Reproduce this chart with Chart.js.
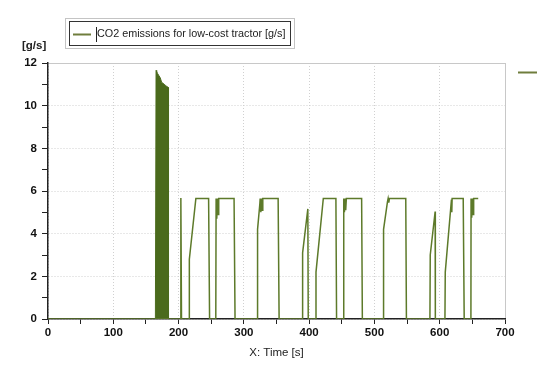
<!DOCTYPE html>
<html>
<head>
<meta charset="utf-8">
<script src="https://cdn.jsdelivr.net/npm/chart.js@4"></script>
<style>
  html, body { margin: 0; padding: 0; background: #fff; }
  #wrap { width: 550px; height: 377px; position: relative; }
</style>
</head>
<body>
<div id="wrap"><canvas id="chart"></canvas></div>
<script>
// time [s] and CO2 [g/s]
const time = [0, 164, 185, 203, 203.5, 204.5, 216, 216.5, 226.5, 246, 247.5,
  257, 257.5, 258.5, 259.5, 260.5, 261.5, 262.5, 285, 286.5,
  320.5, 321, 324.5, 325, 326, 327, 328, 329, 352.5, 354,
  389.5, 390, 398, 398.6,
  410, 410.5, 421.7, 441, 442,
  452.5, 453, 454, 455, 456, 457, 480.4, 481.5,
  513.5, 514, 520, 521, 522, 523, 548, 549,
  585, 585.5, 593, 593.3,
  608, 608.5, 618, 618.5, 619, 636, 637.5,
  647.8, 648, 649, 650, 651, 652, 659];
const co2 = [0, 0, 0, 0, 5.67, 0, 0, 2.8, 5.65, 5.65, 0,
  0, 5.65, 4.7, 5.65, 4.9, 5.65, 5.65, 5.65, 0,
  0, 4.2, 5.4, 5.65, 5.0, 5.65, 5.1, 5.65, 5.65, 0,
  0, 3.1, 5.16, 0,
  0, 2.2, 5.65, 5.65, 0,
  0, 5.65, 5.0, 5.65, 5.1, 5.65, 5.65, 0,
  0, 4.2, 5.5, 5.65, 5.45, 5.65, 5.65, 0,
  0, 3.0, 5.04, 0,
  0, 2.2, 5.6, 5.0, 5.65, 5.65, 0,
  0, 5.65, 4.75, 5.65, 4.9, 5.65, 5.65];
// envelope of the dense burst around 165-185 s
const burstTime = [164.5, 165.5, 166.5, 168, 170, 172, 174, 176, 178, 180, 182, 184.5, 184.6];
const burstCo2 = [0, 11.65, 11.6, 11.5, 11.4, 11.3, 11.1, 11.05, 11.0, 10.95, 10.9, 10.85, 0];

const xTicks = [0, 100, 200, 300, 400, 500, 600, 700];
const yTicks = [0, 2, 4, 6, 8, 10, 12];
const seriesLabel = "CO2 emissions for low-cost tractor [g/s]";

const lineColor = "#5d7a2a";
const burstColor = "#4a6a1c";

function toXY(xs, ys) {
    return xs.map((x, i) => ({ x: x, y: ys[i] }));
}

const boxPlugin = {
    id: "boxPlugin",
    afterDraw(chart) {
        const c = chart.ctx;
        const a = chart.chartArea;
        c.save();
        // legend frame
        c.setLineDash([1, 1]);
        c.strokeStyle = "#888";
        c.lineWidth = 1;
        c.strokeRect(65.5, 18.5, 229, 30);
        c.setLineDash([]);
        c.strokeStyle = "#333";
        c.strokeRect(69.5, 21.5, 221, 24);
        c.strokeStyle = "#6f7d3c";
        c.lineWidth = 2;
        c.beginPath();
        c.moveTo(73, 34.5);
        c.lineTo(91, 34.5);
        c.stroke();
        c.lineWidth = 1;
        c.strokeStyle = "#222";
        c.beginPath();
        c.moveTo(96.5, 27);
        c.lineTo(96.5, 42);
        c.stroke();
        c.fillStyle = "#222";
        c.font = "10.8px 'Liberation Sans', Arial, sans-serif";
        c.textBaseline = "middle";
        c.textAlign = "left";
        c.fillText(seriesLabel, 97, 34.5);
        // unit label
        c.font = "bold 11.5px 'Liberation Sans', Arial, sans-serif";
        c.fillText("[g/s]", 22, 46);
        // axis title
        c.font = "11.5px 'Liberation Sans', Arial, sans-serif";
        c.textAlign = "center";
        c.fillText("X: Time [s]", (a.left + a.right) / 2, 353);
        // stray legend stroke on the right
        c.strokeStyle = "#6f7d3c";
        c.lineWidth = 2;
        c.beginPath();
        c.moveTo(518, 72.5);
        c.lineTo(537, 72.5);
        c.stroke();
        c.restore();
    }
};

new Chart(document.getElementById("chart"), {
    type: "line",
    data: {
        datasets: [{
            label: seriesLabel,
            data: toXY(time, co2),
            borderColor: lineColor,
            borderWidth: 1.5,
            pointRadius: 0,
            tension: 0,
            fill: false
        }, {
            label: "burst",
            data: toXY(burstTime, burstCo2),
            borderColor: burstColor,
            backgroundColor: burstColor,
            borderWidth: 1,
            pointRadius: 0,
            tension: 0,
            fill: "origin"
        }]
    },
    options: {
        responsive: true,
        maintainAspectRatio: false,
        animation: false,
        layout: { padding: { top: 63, right: 45, left: 0, bottom: 0 } },
        plugins: {
            legend: { display: false },
            tooltip: { enabled: false }
        },
        scales: {
            x: {
                type: "linear",
                min: 0,
                max: 700,
                afterBuildTicks: scale => {
                    const t = [];
                    for (let v = 0; v <= 700; v += 50) t.push({ value: v });
                    scale.ticks = t;
                },
                afterFit: scale => { scale.height = 58; },
                ticks: {
                    autoSkip: false,
                    maxRotation: 0,
                    padding: 2,
                    color: "#111",
                    font: { family: "'Liberation Sans', Arial, sans-serif", size: 11.5, weight: "bold" },
                    callback: v => xTicks.includes(v) ? v : ""
                },
                grid: {
                    tickLength: 5,
                    tickColor: "#222",
                    color: ctx => {
                        const v = ctx.tick ? ctx.tick.value : 0;
                        if (!xTicks.includes(v)) return "rgba(0,0,0,0)";
                        return v === 700 ? "#c8c8c8" : "#d0d0d0";
                    }
                },
                border: {
                    color: "#222",
                    width: 1.5,
                    dash: ctx => (ctx.tick && ctx.tick.value === 700) ? [] : [1, 2]
                }
            },
            y: {
                min: 0,
                max: 12,
                afterBuildTicks: scale => {
                    const t = [];
                    for (let v = 0; v <= 12; v += 1) t.push({ value: v });
                    scale.ticks = t;
                },
                afterFit: scale => { scale.width = 48; },
                ticks: {
                    autoSkip: false,
                    padding: 5,
                    color: "#111",
                    font: { family: "'Liberation Sans', Arial, sans-serif", size: 11.5, weight: "bold" },
                    callback: v => yTicks.includes(v) ? v : ""
                },
                grid: {
                    tickLength: 6,
                    tickColor: "#222",
                    color: ctx => {
                        const v = ctx.tick ? ctx.tick.value : 0;
                        if (!yTicks.includes(v)) return "rgba(0,0,0,0)";
                        return v === 12 ? "#c8c8c8" : "#d0d0d0";
                    }
                },
                border: {
                    color: "#222",
                    width: 1.5,
                    dash: ctx => (ctx.tick && ctx.tick.value === 12) ? [] : [1, 2]
                }
            }
        }
    },
    plugins: [boxPlugin]
});
</script>
</body>
</html>
